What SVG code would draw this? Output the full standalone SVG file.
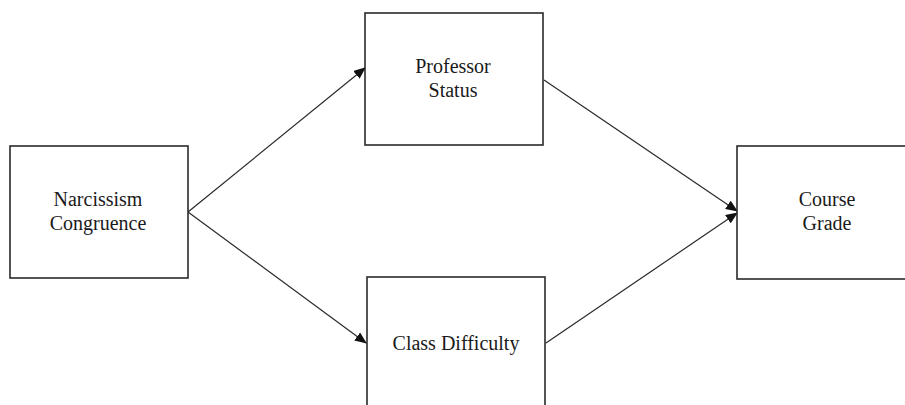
<svg xmlns="http://www.w3.org/2000/svg" width="905" height="405" viewBox="0 0 905 405">
<style>
.box{fill:#fff;stroke:#2a2a2a;stroke-width:1.6}
.lbl{font-family:"Liberation Serif","Times New Roman",serif;font-size:20px;fill:#1a1a1a;text-anchor:middle}
.con{stroke:#2a2a2a;stroke-width:1.2;fill:none;marker-end:url(#ah)}
</style>
<defs>
<marker id="ah" markerWidth="12" markerHeight="10" refX="11" refY="5" orient="auto" markerUnits="userSpaceOnUse">
<path d="M0,0 L12,5 L0,10 Z" fill="#111"/>
</marker>
</defs>
<rect width="905" height="405" fill="#fff"/>
<g id="connectors">
<line class="con" x1="188" y1="212" x2="365" y2="68"/>
<line class="con" x1="188" y1="212" x2="366" y2="343"/>
<line class="con" x1="544" y1="80" x2="737" y2="211"/>
<line class="con" x1="546" y1="343" x2="737" y2="213"/>
</g>
<g id="narcissism">
<rect class="box" x="10" y="146" width="178" height="132"/>
<text class="lbl" x="98" y="206">Narcissism</text>
<text class="lbl" x="98" y="230">Congruence</text>
</g>
<g id="professor">
<rect class="box" x="365" y="13" width="178" height="132"/>
<text class="lbl" x="453" y="73">Professor</text>
<text class="lbl" x="453" y="97">Status</text>
</g>
<g id="difficulty">
<rect class="box" x="367" y="277" width="178" height="140"/>
<text class="lbl" x="456" y="350">Class Difficulty</text>
</g>
<g id="grade">
<rect class="box" x="737" y="146" width="178" height="133"/>
<text class="lbl" x="827" y="206">Course</text>
<text class="lbl" x="827" y="230">Grade</text>
</g>
</svg>
